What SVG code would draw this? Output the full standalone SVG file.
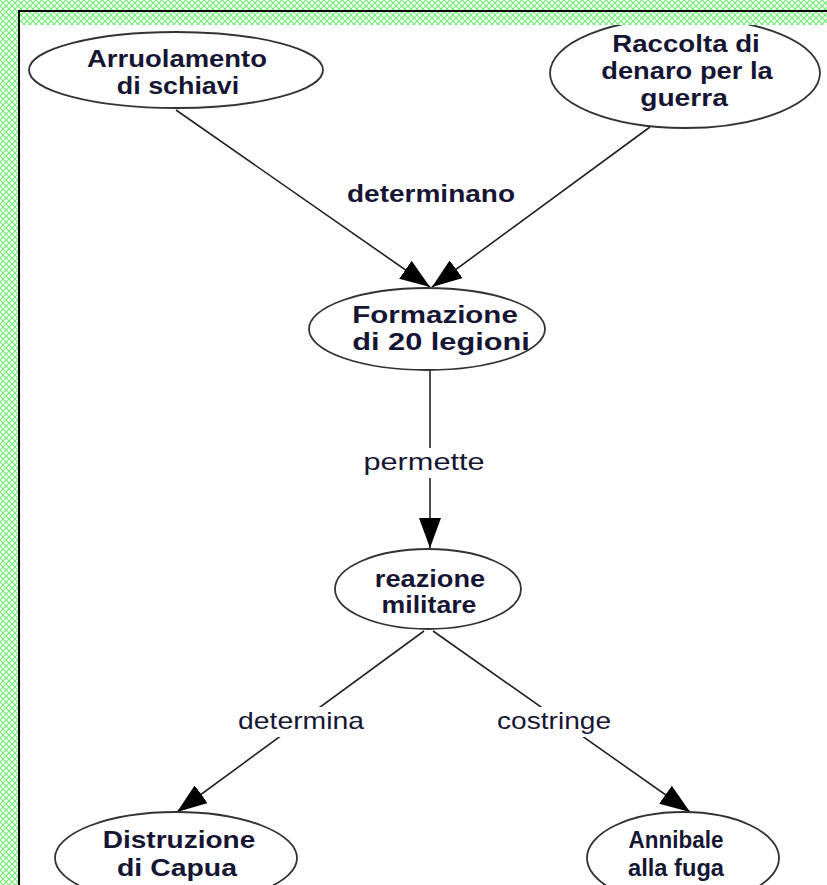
<svg xmlns="http://www.w3.org/2000/svg" width="827" height="885" viewBox="0 0 827 885">
<defs>
<pattern id="hatch" width="6" height="6" patternUnits="userSpaceOnUse">
<rect width="6" height="6" fill="#ffffff"/>
<path d="M0,0 L6,6 M6,0 L0,6" stroke="#6ef06e" stroke-width="1.2"/>
</pattern>
<marker id="arr" markerUnits="userSpaceOnUse" markerWidth="30" markerHeight="22" refX="30" refY="11" orient="auto">
<path d="M0,0 L30,11 L0,22 z" fill="#000"/>
</marker>
<style>
.node ellipse{fill:#fff;stroke:#333;stroke-width:1.8}
.nt{font-family:"Liberation Sans",Arial,sans-serif;font-weight:bold;font-size:23px;fill:#161634;text-anchor:middle}
.et{font-family:"Liberation Sans",Arial,sans-serif;font-size:23px;fill:#161634;text-anchor:middle}
.etb{font-family:"Liberation Sans",Arial,sans-serif;font-weight:bold;font-size:23px;fill:#161634;text-anchor:middle}
.edge{stroke:#222;stroke-width:1.6;fill:none;marker-end:url(#arr)}
</style>
</defs>
<rect width="827" height="885" fill="#fff"/>
<g id="connectors">
<line class="edge" x1="176" y1="110" x2="430" y2="287"/>
<line class="edge" x1="650" y1="127" x2="432" y2="287"/>
<line class="edge" x1="430" y1="370" x2="430" y2="548"/>
<line class="edge" x1="424" y1="631" x2="177" y2="812"/>
<line class="edge" x1="433" y1="631" x2="690" y2="812"/>
</g>
<g id="labels">
<text class="etb" transform="translate(431,202) scale(1.2,1)" textLength="140" lengthAdjust="spacingAndGlyphs">determinano</text>
<g id="lbl-permette"><rect x="362" y="448" width="124" height="30" fill="#fff"/>
<text class="et" transform="translate(424,470) scale(1.2,1)" textLength="101" lengthAdjust="spacingAndGlyphs">permette</text></g>
<g id="lbl-determina"><rect x="236" y="707" width="130" height="30" fill="#fff"/>
<text class="et" transform="translate(301,729) scale(1.2,1)" textLength="105" lengthAdjust="spacingAndGlyphs">determina</text></g>
<g id="lbl-costringe"><rect x="495" y="707" width="118" height="30" fill="#fff"/>
<text class="et" transform="translate(554,729) scale(1.2,1)" textLength="95" lengthAdjust="spacingAndGlyphs">costringe</text></g>
</g>
<g id="n-arruolamento" class="node">
<ellipse cx="176" cy="70" rx="147" ry="38"/>
<text class="nt" transform="translate(177,67) scale(1.2,1)" textLength="150" lengthAdjust="spacingAndGlyphs">Arruolamento</text>
<text class="nt" transform="translate(178,94) scale(1.2,1)" textLength="102" lengthAdjust="spacingAndGlyphs">di schiavi</text>
</g>
<g id="n-raccolta" class="node">
<ellipse cx="685" cy="73" rx="135" ry="55"/>
<text class="nt" transform="translate(686,52) scale(1.2,1)" textLength="123" lengthAdjust="spacingAndGlyphs">Raccolta di</text>
<text class="nt" transform="translate(687,79) scale(1.2,1)" textLength="143" lengthAdjust="spacingAndGlyphs">denaro per la</text>
<text class="nt" transform="translate(684,106) scale(1.2,1)" textLength="73" lengthAdjust="spacingAndGlyphs">guerra</text>
</g>
<g id="n-formazione" class="node">
<ellipse cx="427" cy="329" rx="118" ry="41"/>
<text class="nt" transform="translate(435,323) scale(1.2,1)" textLength="138" lengthAdjust="spacingAndGlyphs">Formazione</text>
<text class="nt" transform="translate(441,350) scale(1.2,1)" textLength="148" lengthAdjust="spacingAndGlyphs">di 20 legioni</text>
</g>
<g id="n-reazione" class="node">
<ellipse cx="428" cy="589" rx="93" ry="40"/>
<text class="nt" transform="translate(430,587) scale(1.2,1)" textLength="92" lengthAdjust="spacingAndGlyphs">reazione</text>
<text class="nt" transform="translate(429,613) scale(1.2,1)" textLength="79" lengthAdjust="spacingAndGlyphs">militare</text>
</g>
<g id="n-distruzione" class="node">
<ellipse cx="176" cy="858" rx="121" ry="46"/>
<text class="nt" transform="translate(179,848) scale(1.2,1)" textLength="127" lengthAdjust="spacingAndGlyphs">Distruzione</text>
<text class="nt" transform="translate(177,876) scale(1.2,1)" textLength="100" lengthAdjust="spacingAndGlyphs">di Capua</text>
</g>
<g id="n-annibale" class="node">
<ellipse cx="683" cy="858" rx="96" ry="46"/>
<text class="nt" transform="translate(676,848) scale(1.2,1)" textLength="79" lengthAdjust="spacingAndGlyphs">Annibale</text>
<text class="nt" transform="translate(676,876) scale(1.2,1)" textLength="80" lengthAdjust="spacingAndGlyphs">alla fuga</text>
</g>
<g id="border">
<rect x="0" y="0" width="19" height="885" fill="url(#hatch)"/>
<rect x="0" y="0" width="827" height="10" fill="url(#hatch)"/>
<rect x="20" y="12" width="807" height="13" fill="url(#hatch)"/>
<line x1="19" y1="10" x2="19" y2="885" stroke="#000" stroke-width="2"/>
<line x1="18" y1="11" x2="827" y2="11" stroke="#000" stroke-width="2"/>
</g>
</svg>
